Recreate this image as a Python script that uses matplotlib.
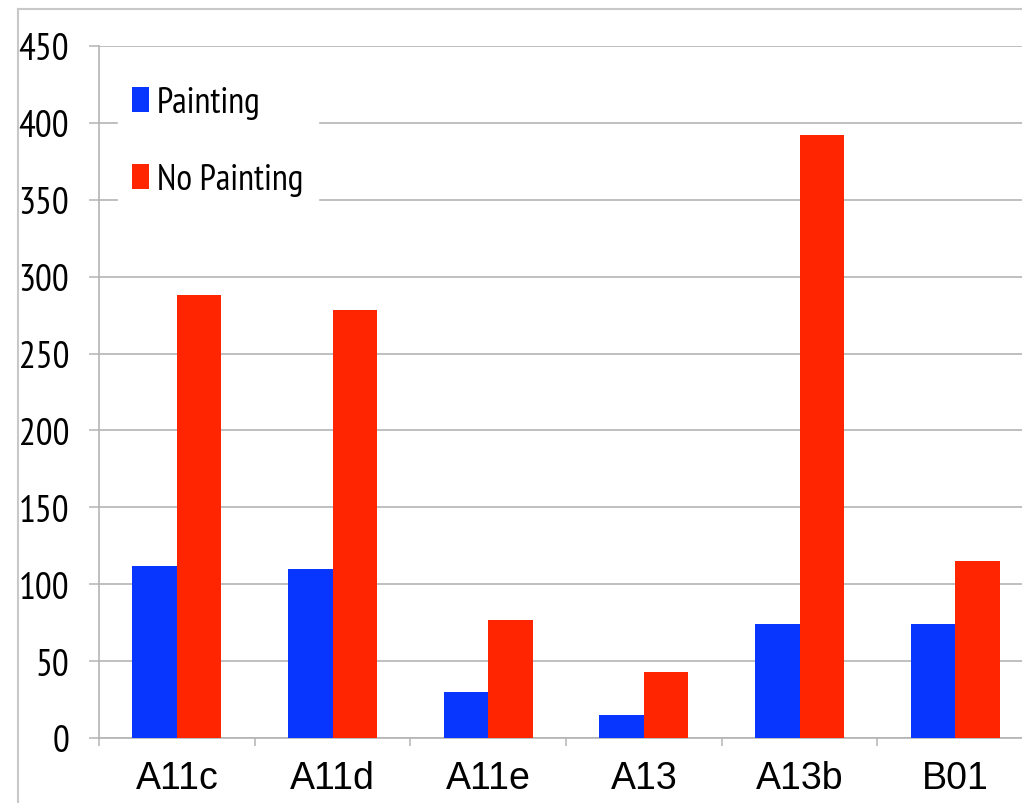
import matplotlib
matplotlib.use("Agg")
import matplotlib.pyplot as plt
import numpy as np
from matplotlib.lines import Line2D

categories = ["A11c", "A11d", "A11e", "A13", "A13b", "B01"]
painting = [112, 110, 30, 15, 74, 74]
no_painting = [288, 278, 77, 43, 392, 115]
y_ticks = [0, 50, 100, 150, 200, 250, 300, 350, 400, 450]

BLUE = "#0836FF"
RED = "#FF2500"
GRID = "#b4b4b4"
NARROW = ["PT Sans Narrow", "Roboto Condensed", "Archivo Narrow", "Carlito", "DejaVu Sans"]

W, H = 1022, 804
fig = plt.figure(figsize=(W / 100, H / 100), dpi=100)

# plot area runs a little past the right edge of the canvas
left, right, bottom, top = 99, 1033, 739, 47
ax = fig.add_axes([left / W, (H - bottom) / H, (right - left) / W, (bottom - top) / H])

x = np.arange(len(categories))
bw = 0.286
ax.bar(x - bw / 2, painting, bw, color=BLUE, label="Painting", zorder=3)
ax.bar(x + bw / 2, no_painting, bw, color=RED, label="No Painting", zorder=3)

ax.set_xlim(-0.5, len(categories) - 0.5)
ax.set_ylim(0, 450)
ax.set_yticks(y_ticks)
ax.set_yticklabels([str(v) for v in y_ticks], family=NARROW, fontsize=27)
ax.yaxis.grid(True, color=GRID, linewidth=1.2, zorder=0)
ax.tick_params(axis="y", direction="out", length=7.5, width=1.1, color=GRID, pad=14)

ax.set_xticks(x)
ax.set_xticklabels(categories, family="Liberation Sans", fontsize=27)
ax.set_xticks(np.arange(-0.5, len(categories)), minor=True)
ax.tick_params(axis="x", which="major", length=0, pad=16)
ax.tick_params(axis="x", which="minor", direction="out", length=6, width=1.1, color=GRID)

for side in ("top", "right"):
    ax.spines[side].set_visible(False)
for side in ("left", "bottom"):
    ax.spines[side].set_color(GRID)
    ax.spines[side].set_linewidth(1.2)

leg = ax.legend(loc="upper left", bbox_to_anchor=(0.02, 0.963), borderaxespad=0,
                frameon=True, prop={"family": NARROW, "size": 26},
                handlelength=0.47, handleheight=0.67, handletextpad=0.22,
                labelspacing=1.22, borderpad=0.4, fancybox=False)
leg.get_frame().set_edgecolor("white")
leg.get_frame().set_facecolor("white")
leg.get_frame().set_alpha(1.0)

# outer border of the chart box (left and top edges)
fig.add_artist(Line2D([18 / W, 18 / W], [0, 1 - 10 / H], transform=fig.transFigure,
                      color="#c8c8c8", linewidth=1.5))
fig.add_artist(Line2D([18 / W, 1], [1 - 10 / H, 1 - 10 / H], transform=fig.transFigure,
                      color="#c8c8c8", linewidth=1.5))

fig.savefig("out.png", dpi=100)
